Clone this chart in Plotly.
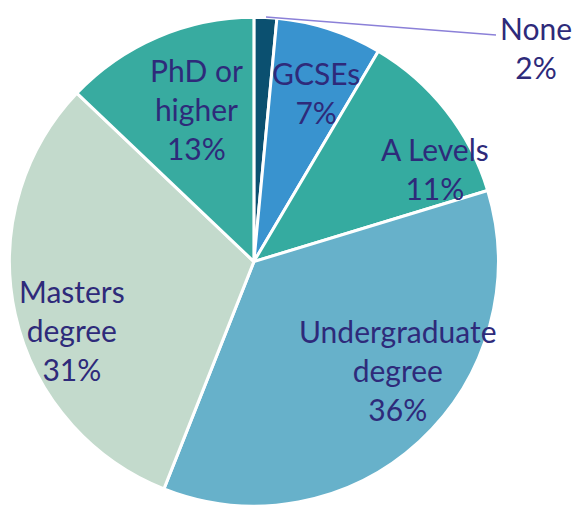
import plotly.graph_objects as go

categories = ["None", "GCSEs", "A Levels", "Undergraduate degree", "Masters degree", "PhD or higher"]
values = [1.5, 7.0, 11.8, 35.7, 31.1, 12.9]
pct_labels = ["2%", "7%", "11%", "36%", "31%", "13%"]
label_lines = ["None", "GCSEs", "A Levels", "Undergraduate<br>degree", "Masters<br>degree", "PhD or<br>higher"]
colors = ["#0B5070", "#3993CF", "#35ABA0", "#67B1CA", "#C3DACC", "#38ABA0"]

fig = go.Figure(go.Pie(
    labels=categories,
    values=values,
    sort=False,
    direction="clockwise",
    rotation=0,
    marker=dict(colors=colors, line=dict(color="white", width=3)),
    textinfo="none",
    hoverinfo="label+percent",
    domain=dict(x=[0.0156, 0.866], y=[0.0, 0.966]),
    showlegend=False,
))

# label positions (paper coords)
pos = [(536, 47), (316, 92), (435, 168), (398, 370), (72, 330), (196, 109)]
W, H = 576, 506
text_color = "#2E2A7A"
for name, pct, (px, py) in zip(label_lines, pct_labels, pos):
    fig.add_annotation(
        x=px / W, y=1 - py / H, xref="paper", yref="paper",
        text=f"{name}<br>{pct}", showarrow=False,
        font=dict(family="Lato, Carlito, sans-serif", size=30, color=text_color),
        align="center", xanchor="center", yanchor="middle",
    )

# leader line for "None"
fig.add_shape(type="line", xref="paper", yref="paper",
              x0=266 / W, y0=1 - 17 / H, x1=496 / W, y1=1 - 35 / H,
              line=dict(color="#8B80D8", width=1.5))

fig.update_layout(
    width=576, height=506,
    margin=dict(l=0, r=0, t=0, b=0),
    paper_bgcolor="white", plot_bgcolor="white",
)
fig.write_html("out.html", config={"displayModeBar": False},
               post_script="document.body.style.margin='0';document.body.style.overflow='hidden';")
